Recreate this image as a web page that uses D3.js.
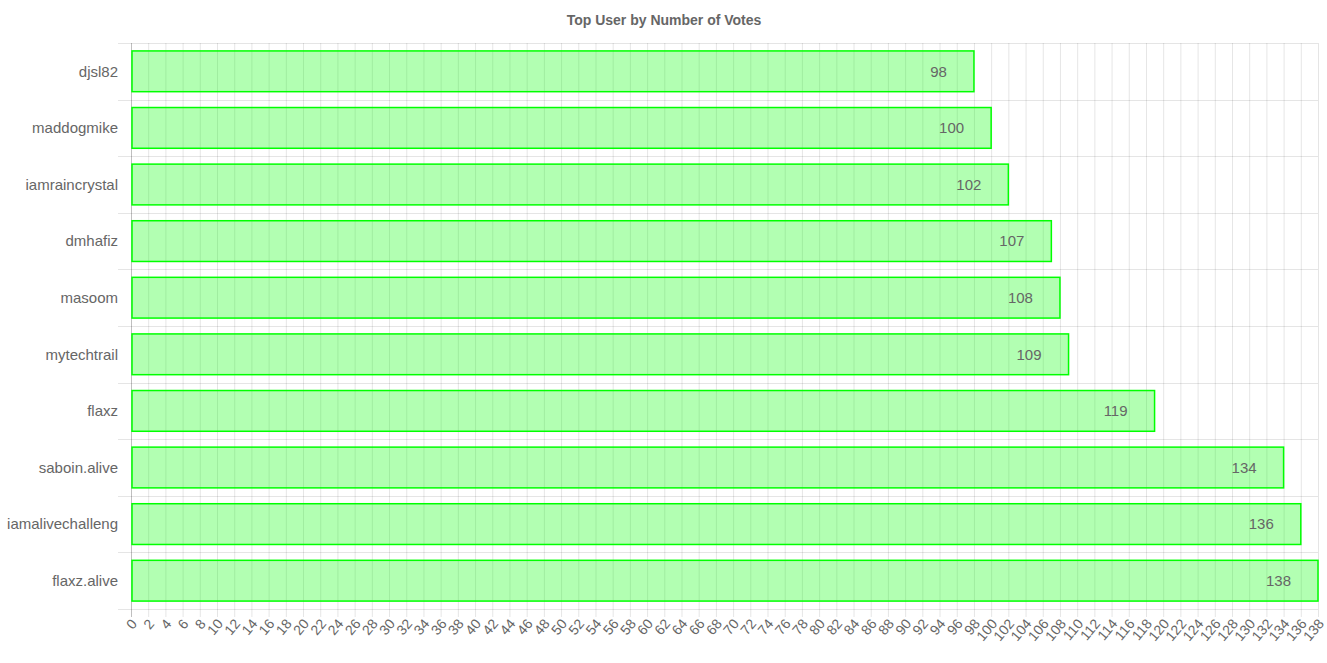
<!DOCTYPE html>
<html>
<head>
<meta charset="utf-8">
<script src="https://cdn.jsdelivr.net/npm/d3@7"></script>
<style>
  body { margin: 0; background: #fff; }
  text { font-family: "Liberation Sans", Arial, Helvetica, sans-serif; }
</style>
</head>
<body>
<svg id="chart" width="1327" height="663"></svg>
<script>
const users = ["djsl82", "maddogmike", "iamraincrystal", "dmhafiz", "masoom",
  "mytechtrail", "flaxz", "saboin.alive", "iamalivechalleng", "flaxz.alive"];
const votes = [98, 100, 102, 107, 108, 109, 119, 134, 136, 138];
const xTicks = d3.range(0, 139, 2);

const svg = d3.select("#chart");
const margin = { top: 43, right: 9, bottom: 54, left: 131 };
const width = 1327 - margin.left - margin.right;
const height = 663 - margin.top - margin.bottom;

svg.append("text")
  .attr("x", 664).attr("y", 25)
  .attr("text-anchor", "middle")
  .attr("font-size", 14).attr("font-weight", "bold")
  .attr("fill", "#666")
  .text("Top User by Number of Votes");

const g = svg.append("g").attr("transform", `translate(${margin.left},${margin.top})`);

const x = d3.scaleLinear().domain([0, 138]).range([0, width]);
const y = d3.scaleBand().domain(users).range([0, height]);

// vertical grid, running down into tick marks
g.append("g").selectAll("line").data(xTicks).join("line")
  .attr("x1", d => x(d) + 0.5).attr("x2", d => x(d) + 0.5)
  .attr("y1", 0).attr("y2", height + 8)
  .attr("stroke", d => d === 0 ? "rgba(0,0,0,0.25)" : "rgba(0,0,0,0.1)");

// horizontal grid at band edges
const edges = users.map(u => y(u)).concat([height]);
g.append("g").selectAll("line").data(edges).join("line")
  .attr("x1", -13).attr("x2", width)
  .attr("y1", d => Math.round(d) + 0.5).attr("y2", d => Math.round(d) + 0.5)
  .attr("stroke", "rgba(0,0,0,0.1)");

// x tick labels
g.append("g").selectAll("text").data(xTicks).join("text")
  .attr("transform", d => `translate(${x(d) + 3},${height + 12}) rotate(-50)`)
  .attr("text-anchor", "end")
  .attr("dy", "0.35em")
  .attr("font-size", 14).attr("fill", "#666")
  .text(d => d);

// y labels
g.append("g").selectAll("text").data(users).join("text")
  .attr("x", -13).attr("y", d => y(d) + y.bandwidth() / 2)
  .attr("dy", "0.35em")
  .attr("text-anchor", "end")
  .attr("font-size", 15).attr("fill", "#666")
  .text(d => d);

// bars
const inner = y.bandwidth() * 0.72;
const off = (y.bandwidth() - inner) / 2;
g.append("g").selectAll("rect").data(votes).join("rect")
  .attr("x", 1)
  .attr("y", (d, i) => y(users[i]) + off)
  .attr("width", d => x(d) - 1)
  .attr("height", inner)
  .attr("fill", "rgba(0,255,0,0.3)")
  .attr("stroke", "#00ff00")
  .attr("stroke-width", 1.5);

// value labels
g.append("g").selectAll("text").data(votes).join("text")
  .attr("x", d => x(d) - 27)
  .attr("y", (d, i) => y(users[i]) + y.bandwidth() / 2)
  .attr("dy", "0.35em")
  .attr("text-anchor", "end")
  .attr("font-size", 15).attr("fill", "#666")
  .text(d => d);
</script>
</body>
</html>
